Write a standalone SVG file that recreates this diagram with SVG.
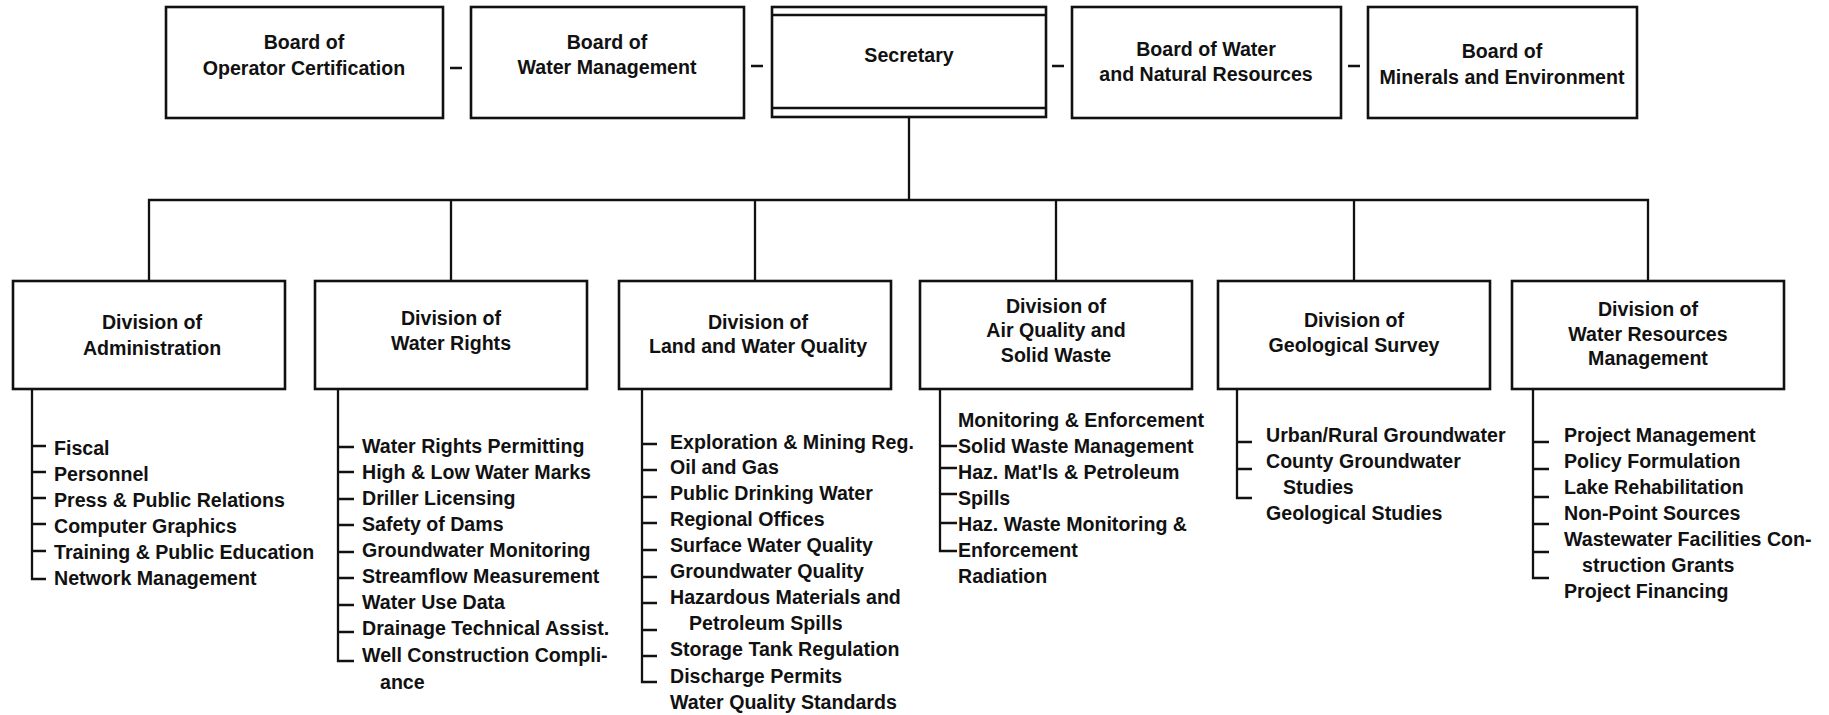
<svg xmlns="http://www.w3.org/2000/svg" width="1829" height="715" viewBox="0 0 1829 715">
<style>
  .box{fill:#fff;stroke:#111;stroke-width:2.6}
  .ln{fill:none;stroke:#111;stroke-width:2.3}
  .t{font-family:"Liberation Sans",Arial,sans-serif;font-weight:bold;font-size:19.6px;fill:#111}
  .c{text-anchor:middle}
</style>
<rect width="1829" height="715" fill="#fff"/>

<g id="connectors">
  <path class="ln" d="M450,68 H462 M751,66 H763 M1052,66 H1064 M1348,66 H1360"/>
  <path class="ln" d="M909,118 V200 M149,281 V200 H1648 V281 M451,200 V281 M755,200 V281 M1056,200 V281 M1354,200 V281"/>
  <!-- Administration list -->
  <path class="ln" d="M32,389 V579 H46 M32,446 H46 M32,472 H46 M32,498 H46 M32,524 H46 M32,551 H46"/>
  <!-- Water Rights list -->
  <path class="ln" d="M338,389 V661 H354 M338,447 H354 M338,472 H354 M338,499 H354 M338,525 H354 M338,552 H354 M338,578 H354 M338,605 H354 M338,632 H354"/>
  <!-- Land and Water Quality list -->
  <path class="ln" d="M642,389 V682 H657 M642,444 H657 M642,470 H657 M642,497 H657 M642,523 H657 M642,550 H657 M642,577 H657 M642,603 H657 M642,630 H657 M642,656 H657"/>
  <!-- Air Quality list -->
  <path class="ln" d="M940,389 V551 H957 M940,446 H957 M940,468 H957 M940,494 H957 M940,523 H957"/>
  <!-- Geological Survey list -->
  <path class="ln" d="M1237,389 V498 H1252 M1237,442 H1252 M1237,469 H1252"/>
  <!-- Water Resources Management list -->
  <path class="ln" d="M1533,389 V578 H1549 M1533,442 H1549 M1533,469 H1549 M1533,497 H1549 M1533,524 H1549 M1533,552 H1549"/>
</g>

<g id="board-operator-certification">
  <rect class="box" x="166" y="7" width="277" height="111"/>
  <text class="t c" x="304" y="49">Board of</text>
  <text class="t c" x="304" y="75">Operator Certification</text>
</g>
<g id="board-water-management">
  <rect class="box" x="471" y="7" width="273" height="111"/>
  <text class="t c" x="607" y="49">Board of</text>
  <text class="t c" x="607" y="74">Water Management</text>
</g>
<g id="secretary">
  <rect class="box" x="772" y="7" width="274" height="110"/>
  <path class="ln" d="M772,15 H1046 M772,108 H1046"/>
  <text class="t c" x="909" y="62">Secretary</text>
</g>
<g id="board-water-natural-resources">
  <rect class="box" x="1072" y="7" width="269" height="111"/>
  <text class="t c" x="1206" y="56">Board of Water</text>
  <text class="t c" x="1206" y="81">and Natural Resources</text>
</g>
<g id="board-minerals-environment">
  <rect class="box" x="1368" y="7" width="269" height="111"/>
  <text class="t c" x="1502" y="58">Board of</text>
  <text class="t c" x="1502" y="84">Minerals and Environment</text>
</g>

<g id="div-administration">
  <rect class="box" x="13" y="281" width="272" height="108"/>
  <text class="t c" x="152" y="329">Division of</text>
  <text class="t c" x="152" y="355">Administration</text>
  <text class="t" x="54" y="455">Fiscal</text>
  <text class="t" x="54" y="481">Personnel</text>
  <text class="t" x="54" y="507">Press &amp; Public Relations</text>
  <text class="t" x="54" y="533">Computer Graphics</text>
  <text class="t" x="54" y="559">Training &amp; Public Education</text>
  <text class="t" x="54" y="585">Network Management</text>
</g>
<g id="div-water-rights">
  <rect class="box" x="315" y="281" width="272" height="108"/>
  <text class="t c" x="451" y="325">Division of</text>
  <text class="t c" x="451" y="350">Water Rights</text>
  <text class="t" x="362" y="453">Water Rights Permitting</text>
  <text class="t" x="362" y="479">High &amp; Low Water Marks</text>
  <text class="t" x="362" y="505">Driller Licensing</text>
  <text class="t" x="362" y="531">Safety of Dams</text>
  <text class="t" x="362" y="557">Groundwater Monitoring</text>
  <text class="t" x="362" y="583">Streamflow Measurement</text>
  <text class="t" x="362" y="609">Water Use Data</text>
  <text class="t" x="362" y="635">Drainage Technical Assist.</text>
  <text class="t" x="362" y="662">Well Construction Compli-</text>
  <text class="t" x="380" y="689">ance</text>
</g>
<g id="div-land-water-quality">
  <rect class="box" x="619" y="281" width="272" height="108"/>
  <text class="t c" x="758" y="329">Division of</text>
  <text class="t c" x="758" y="353">Land and Water Quality</text>
  <text class="t" x="670" y="449">Exploration &amp; Mining Reg.</text>
  <text class="t" x="670" y="474">Oil and Gas</text>
  <text class="t" x="670" y="500">Public Drinking Water</text>
  <text class="t" x="670" y="526">Regional Offices</text>
  <text class="t" x="670" y="552">Surface Water Quality</text>
  <text class="t" x="670" y="578">Groundwater Quality</text>
  <text class="t" x="670" y="604">Hazardous Materials and</text>
  <text class="t" x="689" y="630">Petroleum Spills</text>
  <text class="t" x="670" y="656">Storage Tank Regulation</text>
  <text class="t" x="670" y="683">Discharge Permits</text>
  <text class="t" x="670" y="709">Water Quality Standards</text>
</g>
<g id="div-air-quality-solid-waste">
  <rect class="box" x="920" y="281" width="272" height="108"/>
  <text class="t c" x="1056" y="313">Division of</text>
  <text class="t c" x="1056" y="337">Air Quality and</text>
  <text class="t c" x="1056" y="362">Solid Waste</text>
  <text class="t" x="958" y="427">Monitoring &amp; Enforcement</text>
  <text class="t" x="958" y="453">Solid Waste Management</text>
  <text class="t" x="958" y="479">Haz. Mat'ls &amp; Petroleum</text>
  <text class="t" x="958" y="505">Spills</text>
  <text class="t" x="958" y="531">Haz. Waste Monitoring &amp;</text>
  <text class="t" x="958" y="557">Enforcement</text>
  <text class="t" x="958" y="583">Radiation</text>
</g>
<g id="div-geological-survey">
  <rect class="box" x="1218" y="281" width="272" height="108"/>
  <text class="t c" x="1354" y="327">Division of</text>
  <text class="t c" x="1354" y="352">Geological Survey</text>
  <text class="t" x="1266" y="442">Urban/Rural Groundwater</text>
  <text class="t" x="1266" y="468">County Groundwater</text>
  <text class="t" x="1283" y="494">Studies</text>
  <text class="t" x="1266" y="520">Geological Studies</text>
</g>
<g id="div-water-resources-management">
  <rect class="box" x="1512" y="281" width="272" height="108"/>
  <text class="t c" x="1648" y="316">Division of</text>
  <text class="t c" x="1648" y="341">Water Resources</text>
  <text class="t c" x="1648" y="365">Management</text>
  <text class="t" x="1564" y="442">Project Management</text>
  <text class="t" x="1564" y="468">Policy Formulation</text>
  <text class="t" x="1564" y="494">Lake Rehabilitation</text>
  <text class="t" x="1564" y="520">Non-Point Sources</text>
  <text class="t" x="1564" y="546">Wastewater Facilities Con-</text>
  <text class="t" x="1582" y="572">struction Grants</text>
  <text class="t" x="1564" y="598">Project Financing</text>
</g>
</svg>
